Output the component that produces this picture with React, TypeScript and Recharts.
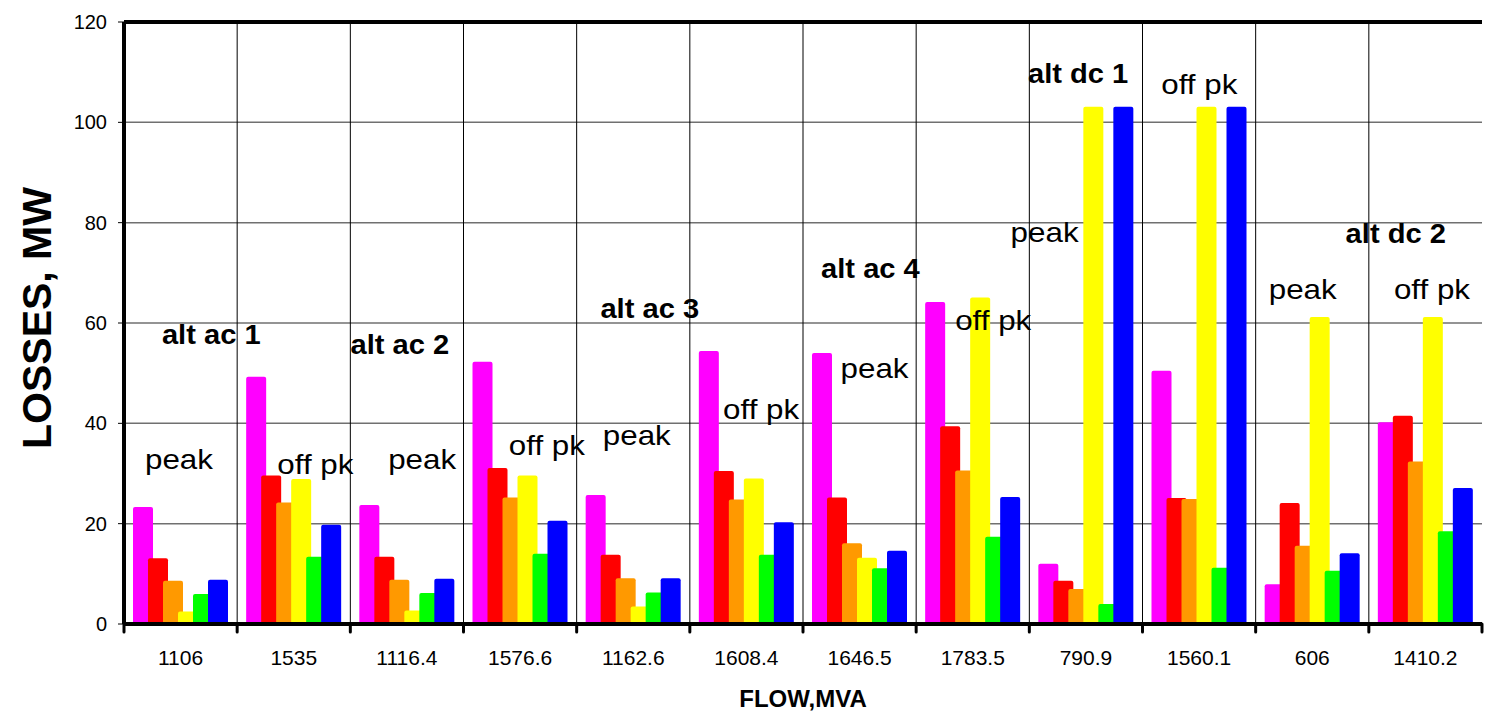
import { Bar, BarChart, CartesianGrid, ReferenceDot, ReferenceLine, XAxis, YAxis } from "recharts";

const flows = ["1106", "1535", "1116.4", "1576.6", "1162.6", "1608.4", "1646.5", "1783.5", "790.9", "1560.1", "606", "1410.2"];

const magentaLoss = [23.3, 49.3, 23.7, 52.3, 25.7, 54.4, 54.0, 64.2, 12.0, 50.5, 7.9, 40.2];
const redLoss = [13.1, 29.6, 13.4, 31.1, 13.8, 30.5, 25.2, 39.4, 8.6, 25.1, 24.1, 41.5];
const orangeLoss = [8.6, 24.2, 8.8, 25.2, 9.1, 24.8, 16.1, 30.6, 7.0, 24.9, 15.6, 32.4];
const yellowLoss = [2.5, 28.9, 2.7, 29.6, 3.5, 29.0, 13.2, 65.1, 103.1, 103.1, 61.2, 61.2];
const greenLoss = [6.0, 13.4, 6.2, 14.0, 6.3, 13.8, 11.1, 17.4, 4.0, 11.2, 10.6, 18.5];
const blueLoss = [8.8, 19.8, 9.0, 20.6, 9.1, 20.3, 14.6, 25.3, 103.1, 103.1, 14.1, 27.1];

const yTicks = [0, 20, 40, 60, 80, 100, 120];

// annotations, x in category units (0..12, 0 = left edge of "1106"), y in MW
const noteText = ["alt ac 1", "peak", "off pk", "alt ac 2", "peak", "off pk", "alt ac 3", "peak", "off pk", "alt ac 4", "peak", "off pk", "peak", "alt dc 1", "off pk", "peak", "alt dc 2", "off pk"];
const noteX = [0.771, 0.486, 1.691, 2.438, 2.635, 3.737, 4.646, 4.531, 5.63, 6.596, 6.632, 7.681, 8.135, 8.431, 9.502, 10.416, 11.238, 11.558];
const noteY = [57.7, 32.8, 31.8, 55.8, 32.8, 35.6, 63.0, 37.6, 42.9, 71.0, 51.0, 60.6, 78.2, 109.8, 107.6, 66.8, 77.9, 66.8];
const noteBold = [true, false, false, true, false, false, true, false, false, true, false, false, false, true, false, false, true, false];

const series = [
  { key: "s1", values: magentaLoss, color: "#ff00ff" },
  { key: "s2", values: redLoss, color: "#ff0000" },
  { key: "s3", values: orangeLoss, color: "#ff9900" },
  { key: "s4", values: yellowLoss, color: "#ffff00" },
  { key: "s5", values: greenLoss, color: "#00ff00" },
  { key: "s6", values: blueLoss, color: "#0000ff" },
];

const data = flows.map((flow, i) => {
  const row: Record<string, string | number> = { flow };
  series.forEach((s) => (row[s.key] = s.values[i]));
  return row;
});

const WIDTH = 1486;
const HEIGHT = 714;
const MARGIN = { top: 22, right: 4, bottom: 0, left: 0 };
const Y_WIDTH = 124;
const BAND = (WIDTH - MARGIN.left - MARGIN.right - Y_WIDTH) / flows.length;

// vertical grid at the category boundaries
const boundaryLines = ({ offset, width }: any) => {
  const w = offset.width ?? width - offset.left - offset.right;
  return flows.slice(1).map((_, i) => offset.left + ((i + 1) * w) / flows.length);
};

function FlowTick(props: any) {
  const { x, y, payload, index } = props;
  const half = payload?.offset || BAND / 2;
  const last = index === flows.length - 1;
  return (
    <g>
      <line x1={x - half} x2={x - half} y1={y} y2={y + 8} stroke="#000" strokeWidth={3} strokeLinecap="round" />
      {last && (
        <line x1={x + half} x2={x + half} y1={y} y2={y + 8} stroke="#000" strokeWidth={3} strokeLinecap="round" />
      )}
      <text x={x} y={y + 40.5} textAnchor="middle" fontSize={21} fill="#000">
        {payload.value}
      </text>
    </g>
  );
}

function NoteShape(props: any) {
  const { cx, cy, text, bold, shift } = props;
  const x = cx + shift * BAND;
  const sx = bold ? 1.04 : 1.12;
  return (
    <text
      x={x}
      y={cy}
      dy="0.355em"
      textAnchor="middle"
      fontSize={28}
      fontWeight={bold ? "bold" : "normal"}
      fill="#000"
      transform={`translate(${x} ${cy}) scale(${sx} 1) translate(${-x} ${-cy})`}
    >
      {text}
    </text>
  );
}

export default function App() {
  return (
    <div style={{ position: "absolute", left: 0, top: 0, background: "#fff" }}>
      <BarChart
        width={WIDTH}
        height={HEIGHT}
        data={data}
        margin={MARGIN}
        barSize={20}
        barGap={-5}
        style={{ fontFamily: '"Liberation Sans", Arial, sans-serif' }}
      >
        <CartesianGrid vertical={false} stroke="#707070" strokeWidth={1.5} />
        <CartesianGrid horizontal={false} stroke="#000" strokeWidth={1} verticalCoordinatesGenerator={boundaryLines} />
        {series.map((s) => (
          <Bar key={s.key} dataKey={s.key} fill={s.color} radius={[2, 2, 0, 0]} isAnimationActive={false} />
        ))}
        <ReferenceLine y={120} stroke="#000" strokeWidth={4} />
        {noteText.map((t, i) => {
          const k = Math.min(flows.length - 1, Math.floor(noteX[i]));
          return (
            <ReferenceDot
              key={i}
              x={flows[k]}
              y={noteY[i]}
              r={0}
              shape={(p: any) => <NoteShape {...p} text={t} bold={noteBold[i]} shift={noteX[i] - k - 0.5} />}
            />
          );
        })}
        <XAxis
          dataKey="flow"
          height={HEIGHT - MARGIN.top - 602}
          tick={<FlowTick />}
          tickLine={false}
          tickSize={0}
          tickMargin={0}
          interval={0}
          axisLine={{ stroke: "#000", strokeWidth: 4 }}
          label={{
            value: "FLOW,MVA",
            position: "insideBottom",
            offset: 7,
            style: { fontSize: 24, fontWeight: "bold", fill: "#000" },
          }}
        />
        <YAxis
          width={Y_WIDTH}
          domain={[0, 120]}
          ticks={yTicks}
          interval={0}
          tick={{ fontSize: 20, fill: "#000" }}
          tickSize={6}
          tickMargin={11}
          tickLine={{ stroke: "#000", strokeWidth: 1 }}
          axisLine={{ stroke: "#000", strokeWidth: 4 }}
          label={{
            value: "LOSSES, MW",
            angle: -90,
            position: "center",
            dx: -26,
            dy: -5,
            style: { fontSize: 41, fontWeight: "bold", fill: "#000" },
          }}
        />
        <YAxis
          yAxisId="edge"
          orientation="right"
          width={0}
          domain={[0, 120]}
          tick={false}
          tickLine={false}
          axisLine={{ stroke: "#000", strokeWidth: 4 }}
        />
      </BarChart>
    </div>
  );
}
